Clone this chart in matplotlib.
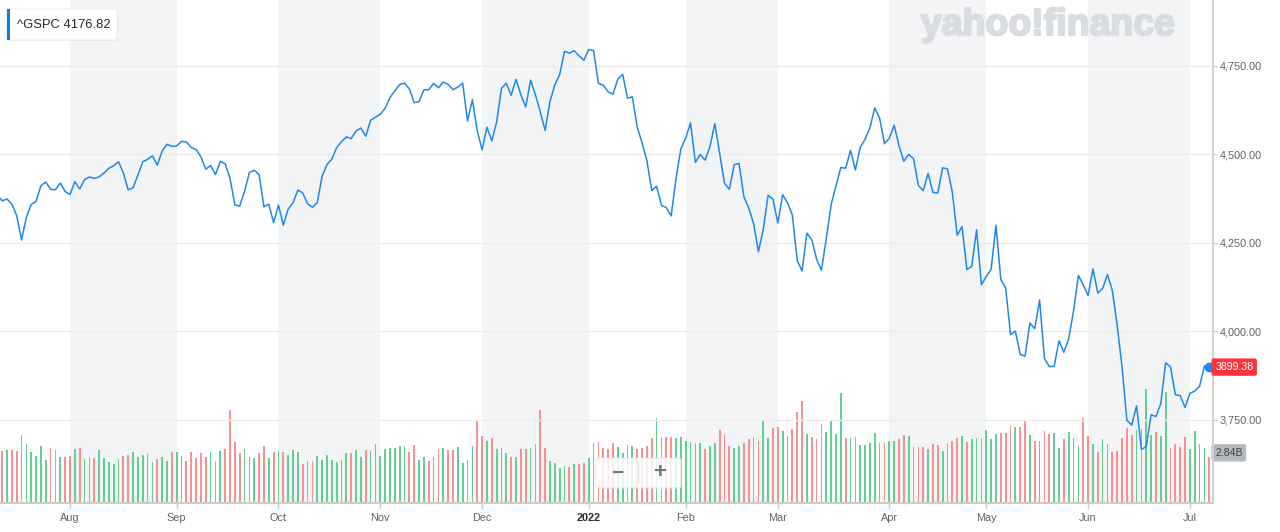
import matplotlib
matplotlib.use("Agg")
import matplotlib.pyplot as plt
import matplotlib.patches as patches
import matplotlib.patheffects as pe
import numpy as np

# ================= data: ^GSPC daily sessions, 12 Jul 2021 -> 8 Jul 2022 =================
month_labels = ['Jul', 'Aug', 'Sep', 'Oct', 'Nov', 'Dec', '2022',
                'Feb', 'Mar', 'Apr', 'May', 'Jun', 'Jul']
month_sessions = [15, 22, 21, 21, 21, 22, 20, 19, 23, 20, 21, 21, 5]

closes = [
    # Jul 2021 (from the 12th)
    4384.63, 4369.21, 4374.30, 4360.03, 4327.16, 4258.49, 4323.06, 4358.69, 4367.48, 4411.79,
    4422.30, 4401.46, 4400.64, 4419.15, 4395.26,
    # Aug
    4387.16, 4423.15, 4402.66, 4429.10, 4436.52, 4432.35, 4436.75, 4447.70, 4460.83, 4468.00,
    4479.71, 4448.08, 4400.27, 4405.80, 4441.67, 4479.53, 4486.23, 4496.19, 4470.00, 4509.37,
    4528.79, 4522.68,
    # Sep
    4524.09, 4536.95, 4535.43, 4520.03, 4514.07, 4493.28, 4458.58, 4468.73, 4443.05, 4480.70,
    4473.75, 4432.99, 4357.73, 4354.19, 4395.64, 4448.98, 4455.48, 4443.11, 4352.63, 4359.46,
    4307.54,
    # Oct
    4357.04, 4300.46, 4345.72, 4363.55, 4399.76, 4391.34, 4361.19, 4350.65, 4363.80, 4438.26,
    4471.37, 4486.46, 4519.63, 4536.19, 4549.78, 4544.90, 4566.48, 4574.79, 4551.68, 4596.42,
    4605.38,
    # Nov
    4613.67, 4630.65, 4660.57, 4680.06, 4697.53, 4701.70, 4685.25, 4646.71, 4649.27, 4682.85,
    4682.80, 4700.90, 4688.67, 4704.54, 4697.96, 4682.94, 4690.70, 4701.46, 4594.62, 4655.27,
    4567.00,
    # Dec
    4513.04, 4577.10, 4538.43, 4591.67, 4686.75, 4701.21, 4667.45, 4712.02, 4668.97, 4634.09,
    4709.85, 4668.67, 4620.64, 4568.02, 4649.23, 4696.56, 4725.79, 4791.19, 4786.35, 4793.06,
    4778.73, 4766.18,
    # Jan 2022
    4796.56, 4793.54, 4700.58, 4696.05, 4677.03, 4670.29, 4713.07, 4726.35, 4659.03, 4662.85,
    4577.11, 4532.76, 4482.73, 4397.94, 4410.13, 4356.45, 4349.93, 4326.51, 4431.85, 4515.55,
    # Feb
    4546.54, 4589.38, 4477.44, 4500.53, 4483.87, 4521.54, 4587.18, 4504.08, 4418.64, 4401.67,
    4471.07, 4475.01, 4380.26, 4348.87, 4304.76, 4225.50, 4288.70, 4384.65, 4373.94,
    # Mar
    4306.26, 4386.54, 4363.49, 4328.87, 4201.09, 4170.70, 4277.88, 4259.52, 4204.31, 4173.11,
    4262.45, 4357.86, 4411.67, 4463.12, 4461.18, 4511.61, 4456.24, 4520.16, 4543.06, 4575.52,
    4631.60, 4602.45, 4530.41,
    # Apr
    4545.86, 4582.64, 4525.12, 4481.15, 4500.21, 4488.28, 4412.53, 4397.45, 4446.59, 4392.59,
    4391.69, 4462.21, 4459.45, 4393.66, 4271.78, 4296.12, 4175.20, 4183.96, 4287.50, 4131.93,
    # May
    4155.38, 4175.48, 4300.17, 4146.87, 4123.34, 3991.24, 4001.05, 3935.18, 3930.08, 4023.89,
    4008.01, 4088.85, 3923.68, 3900.79, 3901.36, 3973.75, 3941.48, 3978.73, 4057.84, 4158.24,
    4132.15,
    # Jun
    4101.23, 4176.82, 4108.54, 4121.43, 4160.68, 4115.77, 4017.82, 3900.86, 3749.63, 3735.48,
    3789.99, 3666.77, 3674.84, 3764.79, 3759.89, 3795.73, 3911.74, 3900.11, 3821.55, 3818.83,
    3785.38,
    # Jul
    3825.33, 3831.39, 3845.08, 3902.62, 3899.38,
]

# volume in billions of shares
volumes_b = [
    3.20, 3.21, 3.25, 3.25, 3.21, 4.20, 3.66, 3.13, 2.92, 3.54, 2.65, 3.40, 3.27, 2.86, 2.86,
    2.92, 3.33, 3.40, 2.72, 2.86, 2.78, 3.25, 2.78, 2.53, 2.39, 2.72, 2.92, 2.98, 3.13, 2.86,
    2.98, 3.02, 2.53, 2.72, 2.86, 2.59, 3.13,
    3.13, 2.92, 2.59, 3.13, 2.80, 3.07, 2.86, 3.13, 2.59, 3.19, 3.33, 5.72, 3.79, 3.07, 3.33,
    2.86, 2.78, 3.07, 3.54, 2.78, 3.15,
    3.21, 3.15, 2.98, 3.27, 3.15, 2.39, 2.59, 2.59, 2.92, 2.65, 2.98, 2.65, 2.53, 2.65, 3.07,
    3.07, 3.25, 2.86, 3.25, 3.21, 3.66,
    2.92, 3.33, 3.40, 3.40, 3.52, 3.52, 3.13, 3.58, 2.65, 2.86, 2.59, 2.86, 3.25, 3.40, 3.25,
    3.25, 3.46, 2.47, 2.65, 3.54, 5.06,
    4.12, 3.81, 3.99, 3.33, 3.40, 3.07, 2.86, 2.86, 3.33, 3.33, 3.40, 3.66, 5.72, 3.40, 2.59,
    2.45, 2.18, 2.26, 2.20, 2.39, 2.39, 2.45,
    2.76, 3.68, 3.79, 3.37, 3.33, 3.68, 3.48, 3.07, 3.58, 3.52, 3.33, 3.37, 3.54, 3.99, 5.27,
    4.05, 4.09, 4.09, 3.99, 4.05,
    3.85, 3.79, 3.68, 3.72, 3.33, 3.52, 3.72, 4.51, 4.20, 3.54, 3.37, 3.52, 3.68, 3.93, 4.05,
    3.85, 5.12, 3.99, 4.65,
    4.71, 4.44, 4.14, 4.57, 5.60, 6.32, 4.26, 4.05, 3.93, 4.88, 4.38, 5.06, 4.26, 6.79, 3.99,
    3.99, 4.05, 3.58, 3.58, 3.72, 4.32, 3.72, 3.79,
    3.85, 3.85, 3.93, 4.20, 4.12, 3.46, 3.46, 3.46, 3.33, 3.66, 3.58, 3.19, 3.72, 3.85, 3.99,
    4.12, 3.79, 3.93, 3.99, 3.99,
    4.51, 3.93, 4.26, 4.32, 4.32, 4.79, 4.71, 4.71, 5.06, 4.20, 3.85, 3.85, 4.47, 4.26, 4.32,
    3.40, 3.93, 4.38, 3.99, 3.58, 5.27,
    4.12, 3.66, 3.13, 3.93, 3.66, 3.13, 3.19, 3.99, 4.65, 4.20, 4.51, 4.59, 7.06, 4.20, 4.38,
    4.12, 6.85, 3.40, 3.66, 3.46, 4.05,
    3.33, 4.44, 3.66, 3.40, 2.84,
]

ticker = '^GSPC'
hover_index = 226  # session shown in the top-left badge (2 Jun 2022)
price_ticks = [3750, 4000, 4250, 4500, 4750]

# ================= figure =================
W, H = 1280, 532
plt.rcParams['font.family'] = ['Liberation Sans', 'DejaVu Sans']
fig = plt.figure(figsize=(W / 100, H / 100), dpi=100)
fig.patch.set_facecolor('white')

ax_vol = fig.add_axes([0, 29 / H, 1213 / W, 503 / H])
ax = ax_vol.twinx()

idx = np.arange(len(closes))
starts = np.concatenate([[0], np.cumsum(month_sessions)[:-1]])

# alternating month bands
for k in range(1, len(starts) - 1, 2):
    ax_vol.axvspan(starts[k], starts[k + 1], color='#f3f4f5', lw=0, zorder=0)

# volume bars, coloured by close vs previous close
up = np.r_[True, np.diff(closes) >= 0]
bar_colors = np.where(up, '#63cf94', '#fb8e8e')
ax_vol.bar(idx, volumes_b, width=0.36, color=bar_colors, linewidth=0, zorder=2)

# price line
line_color = '#1e88ee'
ax.plot(idx, closes, color=line_color, lw=1.1, zorder=3)
ax.plot(idx[-1], closes[-1], 'o', ms=6, color=line_color, clip_on=False, zorder=4)

# scales
ax_vol.set_xlim(0.557, 250.77)
ax_vol.set_ylim(0, 31.05)
ax.set_ylim(3515.5, 4936.4)

# price axis on the right
ax.set_yticks(price_ticks)
ax.set_yticklabels([f'{v:,.2f}' for v in price_ticks])
ax.grid(axis='y', color='#ebebed', lw=1)
ax.tick_params(axis='y', length=3, width=1, color='#cfcfcf',
               labelcolor='#5b636a', labelsize=7.8, pad=2)
ax_vol.set_yticks([])

# month ticks
ax_vol.set_xticks(starts[1:])
ax_vol.set_xticklabels(month_labels[1:])
ax_vol.tick_params(axis='x', length=4, width=1, color='#cfcfcf',
                   labelcolor='#5b636a', labelsize=7.8, pad=3)
for lab in ax_vol.get_xticklabels():
    if lab.get_text() == '2022':
        lab.set_fontweight('bold')
        lab.set_color('#232a31')

for a in (ax, ax_vol):
    a.spines['top'].set_visible(False)
    a.spines['left'].set_visible(False)
ax_vol.spines['right'].set_visible(False)
ax.spines['bottom'].set_visible(False)
ax_vol.spines['bottom'].set_color('#cccccc')
ax_vol.spines['bottom'].set_linewidth(1.6)
ax.spines['right'].set_color('#d0d0d0')
ax.spines['right'].set_linewidth(1.4)

# last price / last volume badges
ax.annotate(f'{closes[-1]:.2f}', xy=(1, closes[-1]), xycoords=('axes fraction', 'data'),
            xytext=(1.5, 0), textcoords='offset points', ha='left', va='center',
            fontsize=7.6, color='white', zorder=6, annotation_clip=False,
            bbox=dict(boxstyle='round,pad=0.35,rounding_size=0.2', fc='#ff333a', ec='none'))
ax_vol.annotate(f'{volumes_b[-1]:.2f}B', xy=(1, volumes_b[-1]), xycoords=('axes fraction', 'data'),
                xytext=(1.5, 3), textcoords='offset points', ha='left', va='center',
                fontsize=7.6, color='#3d4248', zorder=6, annotation_clip=False,
                bbox=dict(boxstyle='round,pad=0.35,rounding_size=0.2', fc='#b4b8be', ec='none'))


def fx(px):
    return px / W


def fy(py):
    return (H - py) / H


# ticker badge (top left)
shadow = patches.FancyBboxPatch((fx(7), fy(41)), fx(111), 32 / H,
                                boxstyle='round,pad=0,rounding_size=0.004',
                                transform=fig.transFigure, fc='#000000', ec='none',
                                alpha=0.06, zorder=5)
fig.add_artist(shadow)
badge = patches.FancyBboxPatch((fx(7), fy(40)), fx(110), 31 / H,
                               boxstyle='round,pad=0,rounding_size=0.003',
                               transform=fig.transFigure, fc='white', ec='#ececec',
                               lw=0.6, zorder=6)
fig.add_artist(badge)
fig.add_artist(patches.Rectangle((fx(7), fy(40)), fx(3), 31 / H, transform=fig.transFigure,
                                 fc='#0081f2', ec='none', zorder=7))
fig.text(fx(17), fy(24.5), f'{ticker} {closes[hover_index]:.2f}', fontsize=9.4,
         color='#232a31', ha='left', va='center', zorder=8)

# watermark
fig.text(fx(1048), fy(35), 'yahoo!finance', fontsize=27, fontweight='bold',
         color='#d9dce0', ha='center', va='baseline', zorder=1,
         path_effects=[pe.withStroke(linewidth=1.6, foreground='#d9dce0')])

# zoom buttons
fig.add_artist(patches.FancyBboxPatch((fx(596), fy(488)), fx(85), 30 / H,
                                      boxstyle='round,pad=0,rounding_size=0.003',
                                      transform=fig.transFigure, fc='white', ec='#e6e6e6',
                                      lw=0.8, alpha=0.85, zorder=6))
fig.add_artist(plt.Line2D([fx(638), fx(638)], [fy(483), fy(463)], transform=fig.transFigure,
                          color='#e3e3e3', lw=1, zorder=7))
fig.text(fx(617), fy(473), '\u2212', fontsize=15, fontweight='bold', color='#6e7780',
         ha='center', va='center', zorder=8)
fig.text(fx(660), fy(473), '+', fontsize=16, fontweight='bold', color='#6e7780',
         ha='center', va='center', zorder=8)

fig.savefig('out.png', dpi=100, facecolor='white')
